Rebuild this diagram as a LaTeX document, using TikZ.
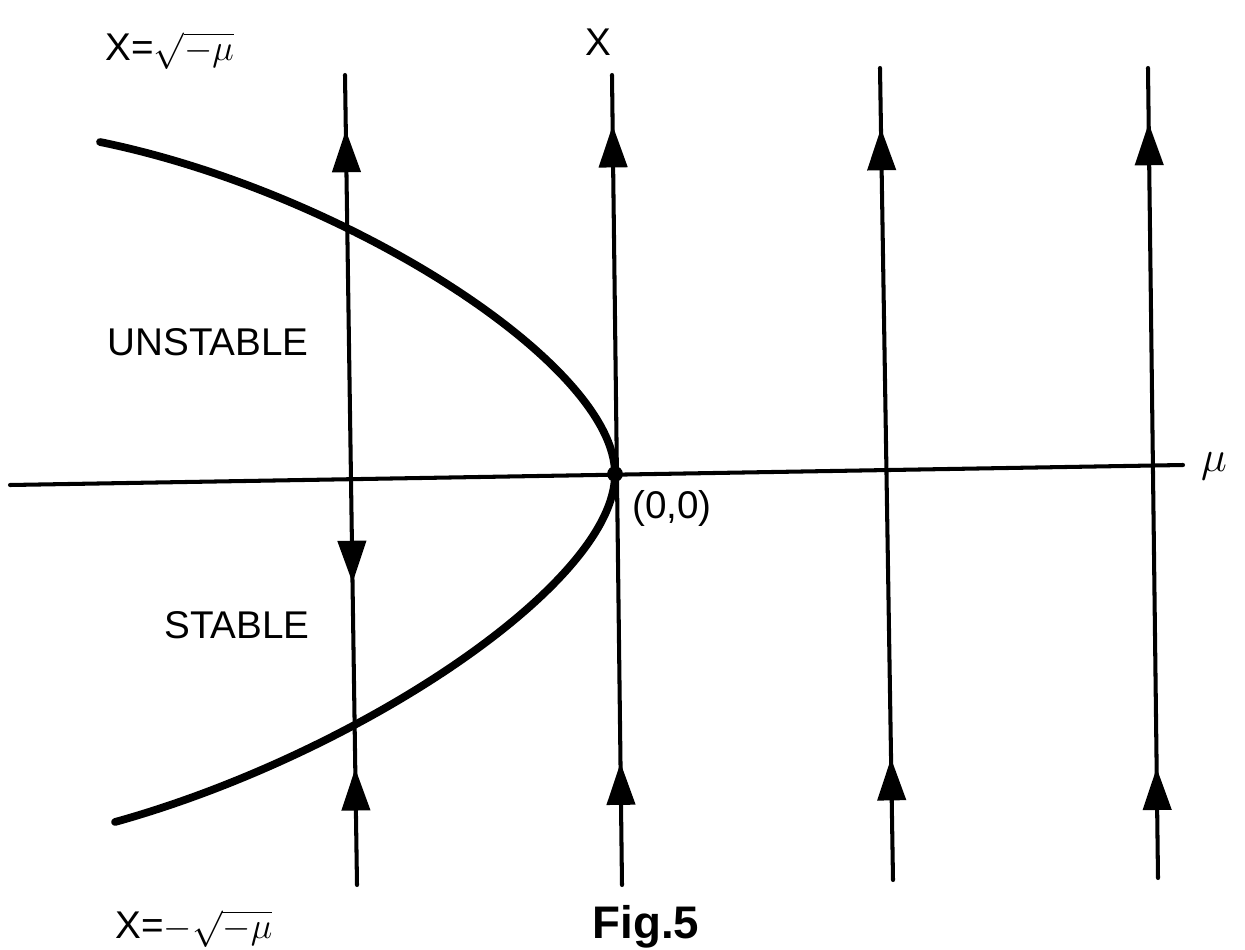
\documentclass[tikz,border=0pt]{standalone}
\usepackage{fontspec}
\setmainfont{Liberation Sans}
\usetikzlibrary{arrows.meta, decorations.markings}
\tikzset{linie/.style={line width=2.3pt, line cap=round},
	kurve/.style={line width=4.4pt, line cap=round},
	spitze/.tip={Triangle[length=24pt, width=16pt]}}

\begin{document}
\begin{tikzpicture}[x=0.02cm, y=-0.02cm, >=latex,   %Pixelraster, y nach unten
				font=\fontsize{22}{26}\selectfont]
				\useasboundingbox (0,0) rectangle (1245,950);
				%Achse
				\coordinate (O) at (615,474);
				\coordinate (ML) at (10,485);
				\coordinate (MR) at (1183,465);
				\draw [linie] (ML) -- (MR);
				%Vertikale Linien (von unten nach oben)
				\coordinate (T1) at (345,75);   \coordinate (B1) at (357,885);
				\coordinate (T2) at (612,75);   \coordinate (B2) at (622,885);
				\coordinate (T3) at (880,68);   \coordinate (B3) at (893,880);
				\coordinate (T4) at (1148,68);  \coordinate (B4) at (1158,878);
				\draw [linie, postaction={decorate}, decoration={markings,
					mark=at position 0.144 with {\arrow{spitze}},
					mark=at position 0.373 with {\arrowreversed{spitze}},
					mark=at position 0.932 with {\arrow{spitze}}}] (B1) -- (T1);
				\draw [linie, postaction={decorate}, decoration={markings,
					mark=at position 0.151 with {\arrow{spitze}},
					mark=at position 0.938 with {\arrow{spitze}}}] (B2) -- (T2);
				\draw [linie, postaction={decorate}, decoration={markings,
					mark=at position 0.150 with {\arrow{spitze}},
					mark=at position 0.926 with {\arrow{spitze}}}] (B3) -- (T3);
				\draw [linie, postaction={decorate}, decoration={markings,
					mark=at position 0.136 with {\arrow{spitze}},
					mark=at position 0.932 with {\arrow{spitze}}}] (B4) -- (T4);
				%Parabel
				\coordinate (S) at (100,142);
				\coordinate (E) at (115,822);
				\draw [kurve] (S) .. controls (345,192) and (615,364) .. (O)
					.. controls (615,584) and (356,755) .. (E);
				\fill (O) circle[radius=4.5pt];
				%Beschriftung
				\node [anchor=base west, inner sep=0pt] (oben) at (105,60) {X=$\sqrt{-\mu}$};
				\node [anchor=base, inner sep=0pt] (xachse) at (598,55) {X};
				\node (instabil) at (208,342) {UNSTABLE};
				\node (stabil) at (237,625) {STABLE};
				\node [anchor=north west, inner sep=0pt] (null) at (632,490) {(0,0)};
				\node [font=\fontsize{32}{36}\selectfont] (mu) at (1214,466) {$\mu$};
				\node [anchor=base west, inner sep=0pt] (unten) at (115,938) {X=$-\sqrt{-\mu}$};
				\node [anchor=base, inner sep=0pt, font=\bfseries\fontsize{26}{30}\selectfont] (fig) at (646,938) {Fig.5};
			\end{tikzpicture}
\end{document}
